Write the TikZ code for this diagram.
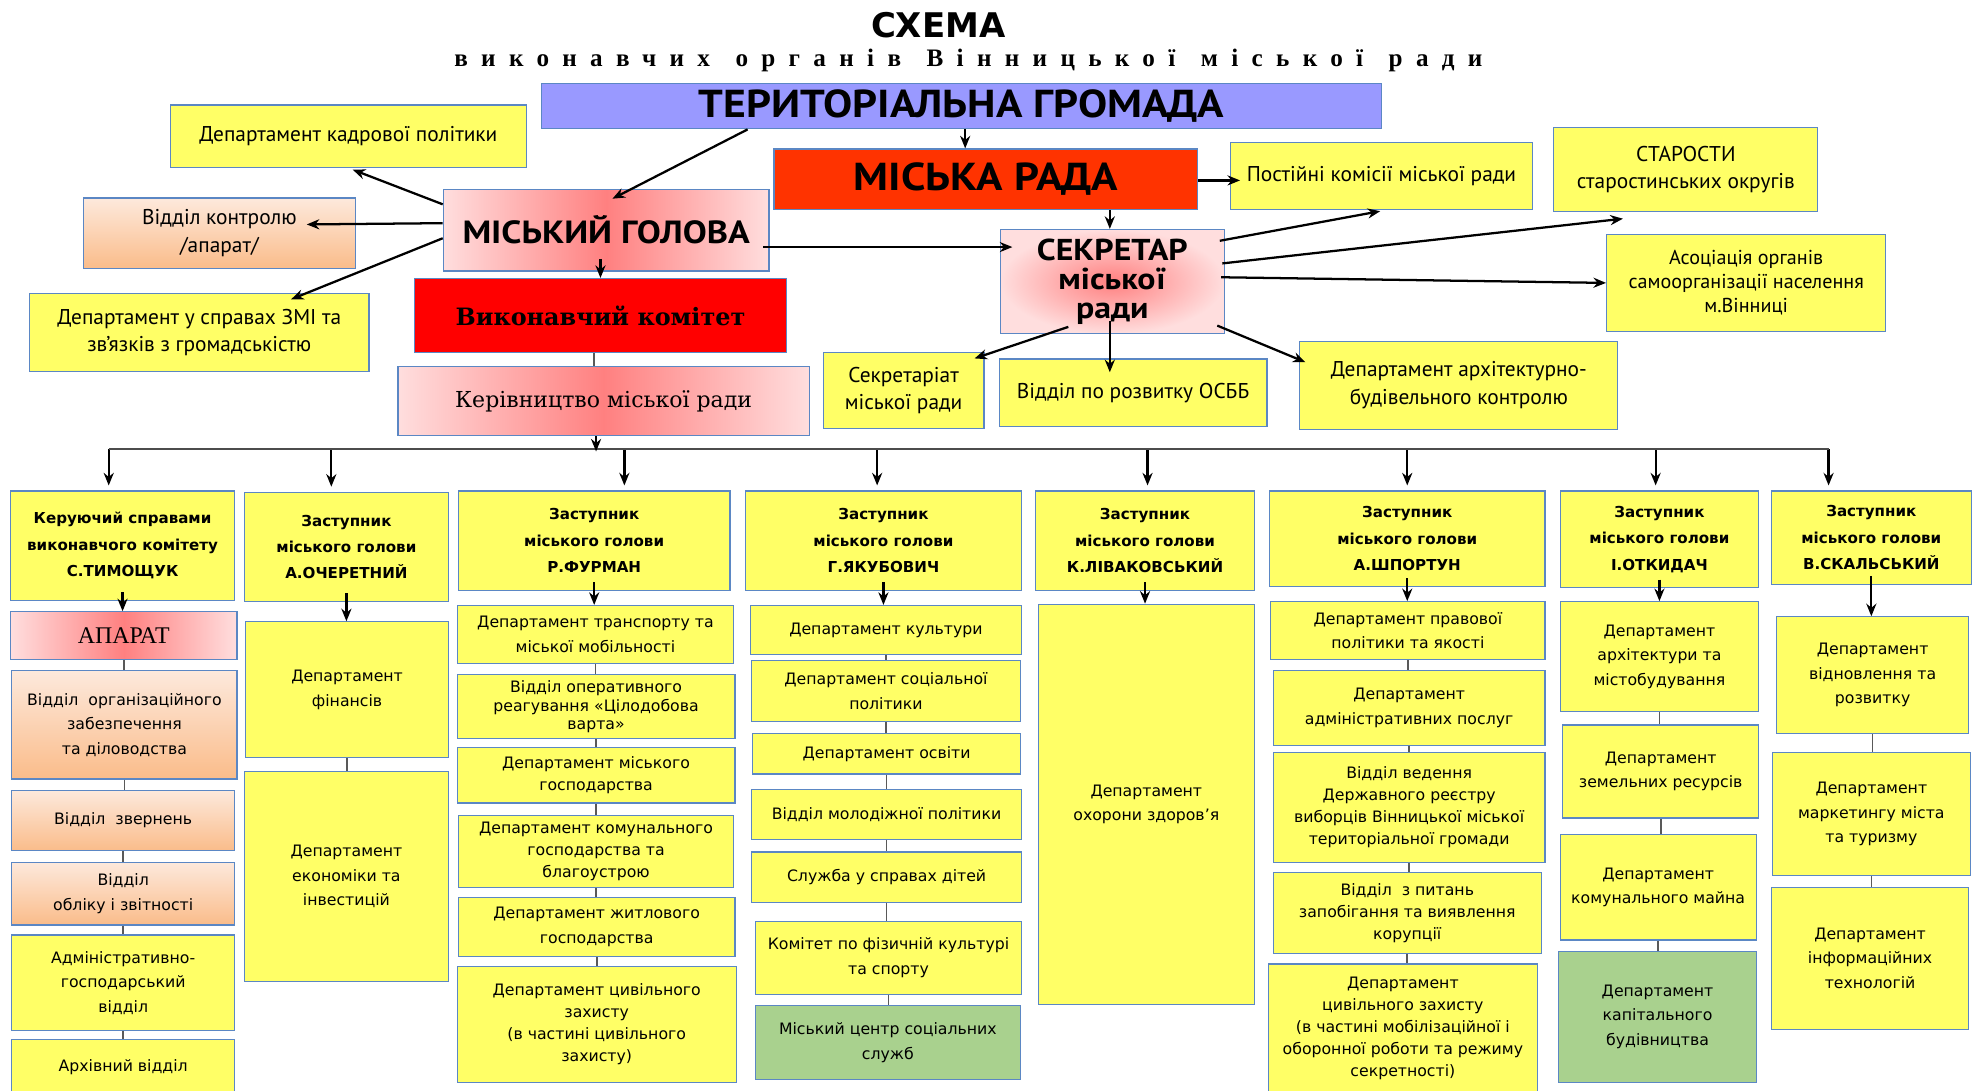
\documentclass[tikz,border=0pt]{standalone}
\usepackage{fontspec}
\usepackage{tikz}
\usetikzlibrary{arrows.meta,calc}
\newfontfamily\ptsans{PT Sans}
\newfontfamily\ptwide[FakeStretch=1.12]{PT Sans}
\newfontfamily\dvsans{DejaVu Sans}
\newfontfamily\dvserif{DejaVu Serif}
\newfontfamily\libserif{Liberation Serif}
\newfontfamily\spacedserif[LetterSpace=53,WordSpace=1.3]{Liberation Serif}
\definecolor{yel}{RGB}{255,255,102}
\definecolor{boxedge}{RGB}{91,135,196}
\definecolor{lav}{RGB}{153,153,255}
\definecolor{radared}{RGB}{255,51,0}
\definecolor{vkred}{RGB}{255,0,0}
\definecolor{pinklt}{RGB}{255,222,222}
\definecolor{pinkdk}{RGB}{255,128,128}
\definecolor{peachlt}{RGB}{253,233,220}
\definecolor{peachdk}{RGB}{250,188,138}
\definecolor{grn}{RGB}{169,209,142}
\tikzset{
  rect/.style n args={4}{anchor=north west, at={(#1,#2)}, minimum width={#3-#1}, minimum height={#4-#2}},
  plain/.style={draw=boxedge, line width=0.9pt, align=center, inner sep=1pt},
  topbox/.style={plain, fill=yel, font=\ptsans\fontsize{17}{22}\selectfont},
  lowbox/.style={plain, fill=yel, font=\dvsans\fontsize{12.5}{19.5}\selectfont},
  tight/.style={font=\dvsans\fontsize{12.5}{17.5}\selectfont},
  tighter/.style={font=\dvsans\fontsize{12.5}{15}\selectfont},
  headbox/.style={plain, fill=yel, font=\dvsans\bfseries\fontsize{12}{21}\selectfont},
  peach/.style={top color=peachlt, bottom color=peachdk},
  blush/.style={left color=pinklt, right color=pinklt, middle color=pinkdk},
  glow/.style={inner color=pinkdk, outer color=pinklt},
  greenbox/.style={fill=grn},
  arr/.style={-{Stealth[length=10pt,width=8pt]}, line width=1.8pt},
  link/.style={line width=1.3pt, draw=black!65},
  busline/.style={line width=1.3pt, draw=black!70}
}

\begin{document}
\begin{tikzpicture}[x=1pt,y=-1pt]
\useasboundingbox (0,0) rectangle (1568,867);

\node[font=\dvsans\bfseries\fontsize{27}{27}\selectfont] (title) at (746,20) {СХЕМА};
\node[font=\spacedserif\bfseries\fontsize{20}{20}\selectfont] (subtitle) at (770,48) {виконавчих органів Вінницької міської ради};

% top level
\node[plain, fill=lav, rect={430}{66}{1098}{102}, font=\ptwide\bfseries\fontsize{31}{31}\selectfont] (tg) {ТЕРИТОРІАЛЬНА ГРОМАДА};
\node[plain, fill=radared, rect={615}{118}{952}{166}, font=\ptwide\bfseries\fontsize{31}{31}\selectfont] (mr) {МІСЬКА РАДА};
\node[topbox, rect={135}{83}{418}{133}] (kadry) {Департамент кадрової політики};
\node[plain, blush, rect={352}{150}{611}{215}, font=\ptwide\bfseries\fontsize{25.5}{25.5}\selectfont] (golova) {МІСЬКИЙ ГОЛОВА};
\node[topbox, peach, rect={66}{157}{282}{213}] (kontrol) {Відділ контролю\\/апарат/};
\node[topbox, rect={23}{233}{293}{295}] (zmi) {Департамент у справах ЗМІ та\\зв’язків з громадськістю};
\node[plain, fill=vkred, rect={329}{221}{625}{280}, font=\dvserif\bfseries\fontsize{19}{19}\selectfont] (vk) {Виконавчий комітет};
\node[plain, blush, rect={316}{291}{643}{346}, font=\dvserif\fontsize{17.5}{17.5}\selectfont] (kerivn) {Керівництво міської ради};
\node[topbox, rect={978}{113}{1218}{166}] (komisii) {Постійні комісії міської ради};
\node[topbox, rect={1235}{101}{1445}{168}] (starosty) {СТАРОСТИ\\старостинських округів};
\node[plain, glow, rect={795}{182}{973}{265}, font=\ptwide\bfseries\fontsize{24}{23}\selectfont] (sekr) {СЕКРЕТАР\\міської\\ради};
\node[topbox, rect={1277}{186}{1499}{263}, font=\ptsans\fontsize{16}{19}\selectfont] (asoc) {Асоціація органів\\самоорганізації населення\\м.Вінниці};
\node[topbox, rect={654}{280}{782}{340}] (sekret) {Секретаріат\\міської ради};
\node[topbox, rect={794}{285}{1007}{339}] (osbb) {Відділ по розвитку ОСББ};
\node[topbox, rect={1033}{271}{1286}{341}] (dabk) {Департамент архітектурно-\\будівельного контролю};

\draw[arr] ($(tg.south)+(-170,0)$) -- ($(golova.north)+(5,8)$);
\draw[arr] ($(tg.south)+(3,0)$) -- ($(tg.south |- mr.north)+(3,0)$);
\draw[arr] ($(golova.west)+(0,-20.5)$) -- ($(kadry.south)+(3.5,1)$);
\draw[arr] ($(golova.west)+(0,-5.5)$) -- ($(kontrol.east)+(-39,-7)$);
\draw[arr] ($(golova.west)+(0,6.5)$) -- ($(zmi.north)+(73,5)$);
\draw[arr] ($(golova.south)+(-4.5,-10)$) -- ($(golova.south |- vk.north)+(-4.5,0)$);
\draw[link] ($(vk.south)+(-5,0)$) -- ($(vk.south |- kerivn.north)+(-5,0)$);
\draw[arr] ($(golova.east)+(-5,13.5)$) -- ($(sekr.west)+(10,-27.5)$);
\draw[arr] ($(mr.east)+(0,1)$) -- ($(komisii.west)+(8,3.5)$);
\draw[arr] ($(sekr.north |- mr.south)+(-2,0)$) -- ($(sekr.north)+(-2,0)$);
\draw[arr] ($(sekr.east)+(-4,-32.5)$) -- ($(komisii.south)+(-1,1)$);
\draw[arr] ($(sekr.east)+(-2,-14.5)$) -- ($(starosty.south)+(-50,5)$);
\draw[arr] ($(sekr.east)+(-3,-3.5)$) -- (asoc.west);
\draw[arr] ($(sekr.south)+(-35,-6)$) -- ($(sekret.north east)+(-8,5)$);
\draw[arr] ($(sekr.south)+(-2,-11)$) -- ($(sekr.south |- osbb.north)+(-2,11)$);
\draw[arr] ($(sekr.south east)+(-6,-7)$) -- ($(dabk.north west)+(5,17)$);

% deputies
\node[headbox, rect={8}{390}{186}{477}] (c1) {Керуючий справами\\виконавчого комітету\\С.ТИМОЩУК};
\node[plain, blush, rect={8}{486}{188}{524}, font=\libserif\fontsize{19}{19}\selectfont] (c1a) {АПАРАТ};
\node[lowbox, peach, rect={9}{533}{188}{619}] (c1b) {Відділ\ \ організаційного\\забезпечення\\та діловодства};
\node[lowbox, peach, rect={9}{628}{186}{676}] (c1c) {Відділ\ \ звернень};
\node[lowbox, peach, rect={9}{685}{186}{735}] (c1d) {Відділ\\обліку і звітності};
\node[lowbox, rect={9}{743}{186}{819}] (c1e) {Адміністративно-\\господарський\\відділ};
\node[lowbox, rect={9}{826}{186}{870}] (c1f) {Архівний відділ};

\node[headbox, rect={194}{391}{356}{478}] (c2) {Заступник\\міського голови\\А.ОЧЕРЕТНИЙ};
\node[lowbox, rect={195}{494}{356}{602}] (c2a) {Департамент\\фінансів};
\node[lowbox, rect={194}{613}{356}{780}] (c2b) {Департамент\\економіки та\\інвестицій};

\node[headbox, rect={364}{390}{580}{469}] (c3) {Заступник\\міського голови\\Р.ФУРМАН};
\node[lowbox, rect={363}{481}{583}{527}] (c3a) {Департамент транспорту та\\міської мобільності};
\node[lowbox, tighter, rect={363}{536}{584}{587}] (c3b) {Відділ оперативного\\реагування «Цілодобова\\варта»};
\node[lowbox, tight, rect={363}{594}{584}{638}] (c3c) {Департамент міського\\господарства};
\node[lowbox, tight, rect={364}{648}{583}{705}] (c3d) {Департамент комунального\\господарства та\\благоустрою};
\node[lowbox, rect={364}{713}{584}{760}] (c3e) {Департамент житлового\\господарства};
\node[lowbox, tight, rect={363}{768}{585}{860}] (c3f) {Департамент цивільного\\захисту\\(в частині цивільного\\захисту)};

\node[headbox, rect={592}{390}{812}{469}] (c4) {Заступник\\міського голови\\Г.ЯКУБОВИЧ};
\node[lowbox, rect={596}{481}{812}{520}] (c4a) {Департамент культури};
\node[lowbox, rect={597}{525}{811}{573}] (c4b) {Департамент соціальної\\політики};
\node[lowbox, rect={598}{583}{811}{615}] (c4c) {Департамент освіти};
\node[lowbox, rect={597}{627}{812}{667}] (c4d) {Відділ молодіжної політики};
\node[lowbox, rect={597}{677}{812}{717}] (c4e) {Служба у справах дітей};
\node[lowbox, rect={600}{732}{812}{790}] (c4f) {Комітет по фізичній культурі\\та спорту};
\node[lowbox, greenbox, rect={600}{799}{811}{858}] (c4g) {Міський центр соціальних\\служб};

\node[headbox, rect={823}{390}{997}{469}] (c5) {Заступник\\міського голови\\К.ЛІВАКОВСЬКИЙ};
\node[lowbox, rect={825}{480}{997}{798}] (c5a) {Департамент\\охорони здоров’я};

\node[headbox, rect={1009}{390}{1228}{466}] (c6) {Заступник\\міського голови\\А.ШПОРТУН};
\node[lowbox, rect={1010}{478}{1228}{524}] (c6a) {Департамент правової\\політики та якості};
\node[lowbox, rect={1012}{533}{1228}{592}] (c6b) {Департамент\\адміністративних послуг};
\node[lowbox, tight, rect={1012}{598}{1228}{685}] (c6c) {Відділ ведення\\Державного реєстру\\виборців Вінницької міської\\територіальної громади};
\node[lowbox, tight, rect={1012}{693}{1225}{758}] (c6d) {Відділ\ \ з питань\\запобігання та виявлення\\корупції};
\node[lowbox, tight, rect={1008}{766}{1222}{869}] (c6e) {Департамент\\цивільного захисту\\(в частині мобілізаційної і\\оборонної роботи та режиму\\секретності)};

\node[headbox, rect={1240}{390}{1398}{467}] (c7) {Заступник\\міського голови\\І.ОТКИДАЧ};
\node[lowbox, rect={1240}{478}{1398}{565}] (c7a) {Департамент\\архітектури та\\містобудування};
\node[lowbox, rect={1242}{576}{1398}{650}] (c7b) {Департамент\\земельних ресурсів};
\node[lowbox, rect={1240}{663}{1396}{747}] (c7c) {Департамент\\комунального майна};
\node[lowbox, greenbox, rect={1239}{756}{1396}{860}] (c7d) {Департамент\\капітального\\будівництва};

\node[headbox, rect={1408}{390}{1567}{464}] (c8) {Заступник\\міського голови\\В.СКАЛЬСЬКИЙ};
\node[lowbox, rect={1412}{490}{1565}{583}] (c8a) {Департамент\\відновлення та\\розвитку};
\node[lowbox, rect={1409}{598}{1566}{696}] (c8b) {Департамент\\маркетингу міста\\та туризму};
\node[lowbox, rect={1408}{705}{1565}{818}] (c8c) {Департамент\\інформаційних\\технологій};

\coordinate (bus) at (0,357);
\foreach \c/\d in {c1/-11, c2/-12, c3/24, c4/-5, c5/2, c6/0, c7/-3, c8/-34}{
  \coordinate (t\c) at ($(\c.north)+(\d,-4)$);
  \draw[arr] (t\c |- bus) -- (t\c);
}
\draw[busline] (tc1 |- bus) -- (tc8 |- bus);
\draw[arr] ($(kerivn.south)+(-6,0)$) -- ($(kerivn.south |- bus)+(-6,2)$);

\foreach \a/\b in {c1/c1a, c2/c2a, c3/c3a, c4/c4a, c5/c5a, c6/c6a, c7/c7a, c8/c8a}
  \draw[arr] ($(\a.south)+(0,-7)$) -- (\a.south |- \b.north);

\foreach \a/\b in {c1a/c1b, c1b/c1c, c1c/c1d, c1d/c1e, c1e/c1f, c2a/c2b,
  c3a/c3b, c3b/c3c, c3c/c3d, c3d/c3e, c3e/c3f,
  c4a/c4b, c4b/c4c, c4c/c4d, c4d/c4e, c4e/c4f, c4f/c4g,
  c6a/c6b, c6b/c6c, c6c/c6d, c6d/c6e, c7a/c7b, c7b/c7c, c7c/c7d, c8a/c8b, c8b/c8c}
  \draw[link] (\a.south) -- (\a.south |- \b.north);
\end{tikzpicture}
\end{document}
